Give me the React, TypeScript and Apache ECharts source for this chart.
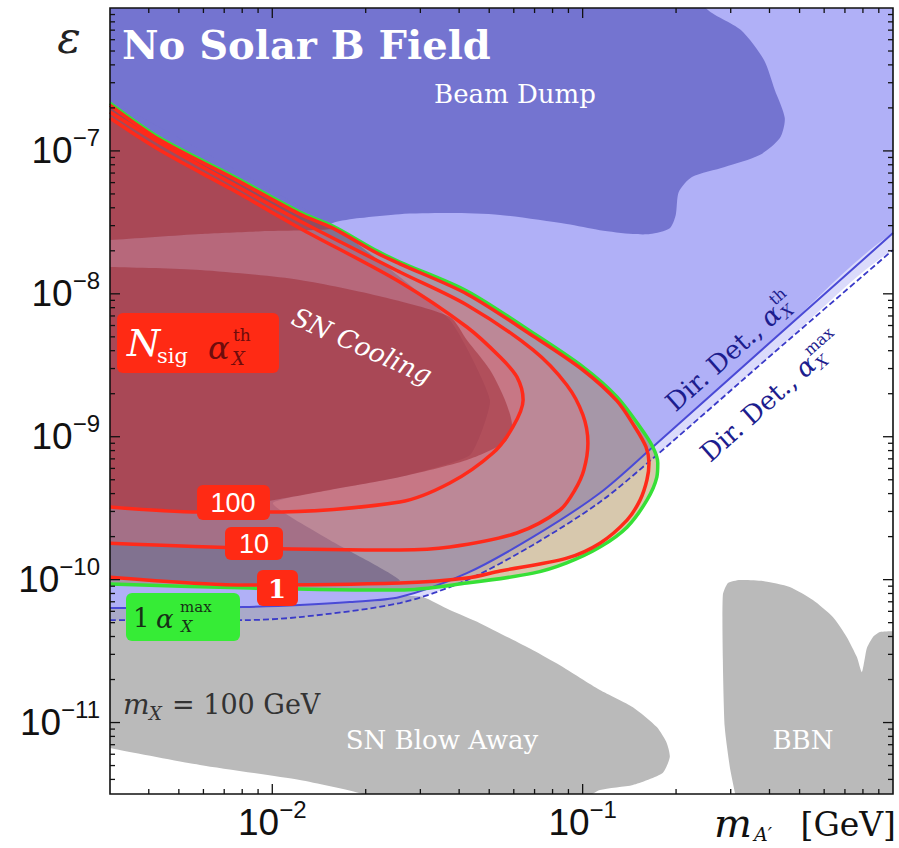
import React, { useEffect, useRef } from "react";
import * as echarts from "echarts";

type Pt = [number, number];

// ---------- axes ----------
const X_MIN = 0.003;
const X_MAX = 1;
const Y_MIN = 3.1623e-12;
const Y_MAX = 1e-6;

const xLabelValues = [0.01, 0.1];
const yLabelValues = [1e-11, 1e-10, 1e-9, 1e-8, 1e-7];
const xMajorTicks = [0.01, 0.1];
const yMajorTicks = [1e-11, 1e-10, 1e-9, 1e-8, 1e-7];
const xMinorTicks = [0.004, 0.005, 0.006, 0.007, 0.008, 0.009, 0.02, 0.03, 0.04, 0.05, 0.06, 0.07, 0.08, 0.09, 0.2, 0.3, 0.4, 0.5, 0.6, 0.7, 0.8, 0.9];
const yMinorTicks = [
  4e-12, 5e-12, 6e-12, 7e-12, 8e-12, 9e-12,
  2e-11, 3e-11, 4e-11, 5e-11, 6e-11, 7e-11, 8e-11, 9e-11,
  2e-10, 3e-10, 4e-10, 5e-10, 6e-10, 7e-10, 8e-10, 9e-10,
  2e-9, 3e-9, 4e-9, 5e-9, 6e-9, 7e-9, 8e-9, 9e-9,
  2e-8, 3e-8, 4e-8, 5e-8, 6e-8, 7e-8, 8e-8, 9e-8,
  2e-7, 3e-7, 4e-7, 5e-7, 6e-7, 7e-7, 8e-7, 9e-7,
];

// ---------- direct detection lines ----------
const ddThLine: Pt[] = [
  [3.0e-3, 6.32e-11], [5.04e-3, 6.32e-11], [8.05e-3, 6.43e-11], [1.227e-2, 6.64e-11],
  [1.778e-2, 6.97e-11], [2.576e-2, 7.55e-11], [4.236e-2, 1.11e-10], [6.92e-2, 1.99e-10],
  [1.137e-1, 4.04e-10], [1.683e-1, 8.48e-10], [4.10e-1, 4.75e-9], [1.0, 2.66e-8],
];
const ddMaxLine: Pt[] = [
  [3.0e-3, 5.21e-11], [8.05e-3, 5.21e-11], [1.227e-2, 5.47e-11], [2.576e-2, 6.86e-11],
  [4.236e-2, 9.93e-11], [6.92e-2, 1.75e-10], [1.137e-1, 3.49e-10], [1.734e-1, 7.45e-10],
  [4.16e-1, 3.92e-9], [1.0, 2.03e-8],
];

// ---------- excluded regions ----------
const beamDump: Pt[] = [
  [2.7e-3, 1.3e-6], [2.6e-1, 1.3e-6], [2.495e-1, 1.0e-6], [3.236e-1, 7.01e-7], [3.84e-1, 4.33e-7],
  [4.16e-1, 2.67e-7], [4.48e-1, 1.698e-7], [4.32e-1, 1.23e-7], [3.72e-1, 9.35e-8], [2.87e-1, 7.71e-8],
  [2.25e-1, 6.56e-8], [2.04e-1, 5.15e-8], [1.995e-1, 3.56e-8], [1.909e-1, 2.88e-8], [1.648e-1, 2.62e-8],
  [1.452e-1, 2.62e-8], [1.137e-1, 2.79e-8], [8.89e-2, 3.08e-8], [5.42e-2, 3.56e-8], [3.733e-2, 3.67e-8],
  [2.576e-2, 3.61e-8], [1.914e-2, 3.39e-8], [1.567e-2, 3.13e-8], [1.227e-2, 2.38e-8], [2.7e-3, 8.63e-8],
];
const snCoolingBase: Pt[] = [
  [2.6e-3, 2.4e-7], [3.0e-3, 2.27e-7], [1.567e-2, 2.98e-8], [3.733e-2, 6.56e-9], [5.03e-2, 1.81e-9],
  [4.34e-2, 7.45e-10], [2.576e-2, 5.22e-10], [1.005e-2, 3.44e-10], [1.535e-2, 1.89e-10],
  [2.576e-2, 9.77e-11], [8.48e-3, 9.31e-11], [3.0e-3, 1.025e-10], [2.6e-3, 1.05e-10],
];
const snCoolingUpper: Pt[] = [
  [2.6e-3, 2.2e-7], [3.0e-3, 2.16e-7], [4.35e-3, 1.23e-7], [7.47e-3, 6.67e-8], [1.227e-2, 3.73e-8],
  [1.59e-2, 2.88e-8], [9.62e-3, 2.75e-8], [5.85e-3, 2.62e-8], [3.0e-3, 2.38e-8], [2.6e-3, 2.38e-8],
];
const snCoolingCore: Pt[] = [
  [2.6e-3, 1.54e-8], [3.0e-3, 1.54e-8], [5.85e-3, 1.469e-8], [1.227e-2, 1.25e-8], [2.27e-2, 9.51e-9],
  [3.733e-2, 6.89e-9], [4.236e-2, 4.75e-9], [5.03e-2, 2.93e-9], [5.62e-2, 1.81e-9], [5.92e-2, 1.21e-9],
  [5.62e-2, 9.18e-10], [4.236e-2, 6.87e-10], [2.576e-2, 5.22e-10], [1.535e-2, 4.24e-10],
  [1.005e-2, 3.60e-10], [5.85e-3, 3.02e-10], [3.0e-3, 3.27e-10], [2.6e-3, 3.27e-10],
];
const snBlowAway: Pt[] = [
  [2.4e-3, 6.5e-11], [8.05e-3, 6.64e-11], [1.227e-2, 6.86e-11], [1.778e-2, 7.19e-11], [2.576e-2, 7.67e-11],
  [3.055e-2, 7.55e-11], [3.733e-2, 6.12e-11], [4.667e-2, 4.96e-11], [6.92e-2, 3.21e-11], [8.45e-2, 2.52e-11],
  [1.137e-1, 1.69e-11], [1.452e-1, 1.28e-11], [1.734e-1, 9.29e-12], [1.866e-1, 7.19e-12], [1.909e-1, 5.74e-12],
  [1.81e-1, 4.44e-12], [1.452e-1, 3.66e-12], [1.137e-1, 3.37e-12], [9.0e-2, 2.6e-12], [2.4e-2, 2.6e-12],
  [1.96e-2, 3.162e-12], [1.227e-2, 3.96e-12], [5.85e-3, 5.05e-12], [3.0e-3, 6.64e-12], [2.4e-3, 7.5e-12],
];
const bbn: Pt[] = [
  [3.15e-1, 2.6e-12], [3.10e-1, 3.162e-12], [2.98e-1, 4.89e-12], [2.87e-1, 9.29e-12], [2.83e-1, 2.74e-11],
  [2.83e-1, 7.80e-11], [2.94e-1, 9.46e-11], [3.21e-1, 9.93e-11], [3.81e-1, 9.77e-11], [4.65e-1, 8.87e-11],
  [5.52e-1, 7.19e-11], [6.40e-1, 5.47e-11], [7.10e-1, 3.96e-11], [7.65e-1, 2.87e-11], [7.94e-1, 2.25e-11],
  [8.24e-1, 3.32e-11], [8.61e-1, 3.96e-11], [9.08e-1, 4.30e-11], [1.0, 4.36e-11], [1.3, 4.36e-11], [1.3, 2.6e-12],
];

// ---------- N_sig contours (alpha_X^th) and 1 alpha_X^max ----------
const greenMax1: Pt[] = [
  [3.0e-3, 2.16e-7], [4.35e-3, 1.23e-7], [7.47e-3, 6.67e-8], [1.227e-2, 3.73e-8], [1.567e-2, 2.98e-8],
  [2.172e-2, 2.0e-8], [2.576e-2, 1.67e-8], [4.236e-2, 1.047e-8], [6.92e-2, 5.32e-9], [1.002e-1, 3.08e-9],
  [1.29e-1, 1.90e-9], [1.531e-1, 1.17e-9], [1.683e-1, 8.48e-10], [1.746e-1, 6.55e-10], [1.734e-1, 5.22e-10],
  [1.611e-1, 3.60e-10], [1.39e-1, 2.33e-10], [1.137e-1, 1.69e-10], [8.89e-2, 1.31e-10], [6.92e-2, 1.11e-10],
  [4.236e-2, 9.46e-11], [2.576e-2, 8.45e-11], [8.48e-3, 8.73e-11], [3.0e-3, 9.31e-11],
];
const red1: Pt[] = [
  [3.0e-3, 2.094e-7], [4.35e-3, 1.19e-7], [7.47e-3, 6.45e-8], [1.227e-2, 3.61e-8], [1.567e-2, 2.88e-8],
  [2.172e-2, 1.93e-8], [2.576e-2, 1.62e-8], [4.236e-2, 9.98e-9], [6.92e-2, 5.07e-9], [1.002e-1, 2.93e-9],
  [1.29e-1, 1.78e-9], [1.473e-1, 1.17e-9], [1.60e-1, 8.48e-10], [1.636e-1, 6.55e-10], [1.611e-1, 4.98e-10],
  [1.531e-1, 3.60e-10], [1.39e-1, 2.61e-10], [1.137e-1, 1.80e-10], [8.89e-2, 1.415e-10], [5.42e-2, 1.148e-10],
  [4.236e-2, 1.025e-10], [2.576e-2, 9.46e-11], [8.48e-3, 9.16e-11], [3.0e-3, 1.04e-10],
];
const red10: Pt[] = [
  [3.0e-3, 1.87e-7], [4.35e-3, 1.135e-7], [7.47e-3, 5.86e-8], [1.227e-2, 3.23e-8], [2.576e-2, 1.422e-8],
  [4.236e-2, 8.36e-9], [6.92e-2, 4.05e-9], [8.89e-2, 2.30e-9], [1.002e-1, 1.42e-9], [1.04e-1, 9.04e-10],
  [1.009e-1, 5.85e-10], [9.44e-2, 4.24e-10], [8.45e-2, 3.07e-10], [6.14e-2, 2.12e-10], [3.733e-2, 1.69e-10],
  [2.576e-2, 1.61e-10], [8.48e-3, 1.66e-10], [3.0e-3, 1.80e-10],
];
const red100: Pt[] = [
  [3.0e-3, 1.698e-7], [4.35e-3, 1.01e-7], [7.47e-3, 5.32e-8], [1.227e-2, 2.88e-8], [2.576e-2, 1.21e-8],
  [4.236e-2, 5.86e-9], [5.42e-2, 3.61e-9], [6.14e-2, 2.62e-9], [6.43e-2, 1.81e-9], [5.96e-2, 1.17e-9],
  [5.14e-2, 7.69e-10], [3.733e-2, 4.74e-10], [2.576e-2, 3.49e-10], [9.62e-3, 2.97e-10], [5.85e-3, 2.97e-10],
  [3.0e-3, 3.22e-10],
];

// ---------- helpers ----------
const SERIF = '"DejaVu Serif"';

function polygonSeries(name: string, pts: Pt[], fill: string, smooth = 0.25) {
  return {
    type: "custom",
    name,
    coordinateSystem: "cartesian2d",
    silent: true,
    clip: true,
    data: pts.map((p) => [p[0], p[1]]),
    encode: { x: 0, y: 1 },
    renderItem: (params: any, api: any) => {
      if (params.dataIndex !== 0) return null;
      return {
        type: "polygon",
        shape: { points: pts.map((p) => api.coord(p)), smooth },
        style: { fill },
      };
    },
  };
}

function lineSeries(name: string, pts: Pt[], color: string, width: number, type: any = "solid", smooth = 0.3) {
  return {
    type: "line",
    name,
    data: pts,
    showSymbol: false,
    symbol: "none",
    smooth,
    silent: true,
    clip: true,
    lineStyle: { color, width, type },
  };
}

function closeAbove(line: Pt[]): Pt[] {
  const first = line[0];
  const last = line[line.length - 1];
  return [[first[0] * 0.8, first[1]], ...line, [last[0] * 1.4, last[1]], [last[0] * 1.4, Y_MAX * 2], [first[0] * 0.8, Y_MAX * 2]];
}

function interior(c: Pt[]): Pt[] {
  return [[c[0][0] * 0.85, c[0][1]], ...c, [c[c.length - 1][0] * 0.85, c[c.length - 1][1]]];
}

function powFormatter(allowed: number[]) {
  return (v: number) => {
    const l = Math.log10(v);
    const e = Math.round(l);
    if (Math.abs(l - e) > 1e-6) return "";
    if (!allowed.some((a) => Math.abs(Math.log10(a) - e) < 1e-6)) return "";
    return `{b|10}{s|\u2212${Math.abs(e)}}`;
  };
}

const labelRich = {
  b: { fontSize: 37, fontFamily: "Liberation Sans", color: "#111" },
  s: { fontSize: 24, fontFamily: "Liberation Sans", color: "#111", padding: [0, 0, 26, 0] },
};

export default function App() {
  const ref = useRef<HTMLDivElement>(null);

  useEffect(() => {
    document.body.style.margin = "0";
    const chart = echarts.init(ref.current!, null, { renderer: "svg" });

    const ctx = document.createElement("canvas").getContext("2d")!;
    const measure = (t: string, font: string) => {
      ctx.font = font;
      return ctx.measureText(t).width;
    };

    const tickSeriesX = {
      type: "custom",
      name: "xticks",
      coordinateSystem: "cartesian2d",
      silent: true,
      z: 10,
      data: [...xMajorTicks.map((v) => [v, 1e-9, 1]), ...xMinorTicks.map((v) => [v, 1e-9, 0])],
      encode: { x: 0, y: 1 },
      renderItem: (params: any, api: any) => {
        const cs = params.coordSys;
        const x = api.coord([api.value(0), api.value(1)])[0];
        const len = api.value(2) ? 10 : 5;
        const b = cs.y + cs.height;
        const st = { stroke: "#111", lineWidth: 1.3 };
        return {
          type: "group",
          children: [
            { type: "line", shape: { x1: x, y1: b, x2: x, y2: b - len }, style: st },
            { type: "line", shape: { x1: x, y1: cs.y, x2: x, y2: cs.y + len }, style: st },
          ],
        };
      },
    };
    const tickSeriesY = {
      type: "custom",
      name: "yticks",
      coordinateSystem: "cartesian2d",
      silent: true,
      z: 10,
      data: [...yMajorTicks.map((v) => [0.01, v, 1]), ...yMinorTicks.map((v) => [0.01, v, 0])],
      encode: { x: 0, y: 1 },
      renderItem: (params: any, api: any) => {
        const cs = params.coordSys;
        const y = api.coord([api.value(0), api.value(1)])[1];
        const len = api.value(2) ? 10 : 5;
        const r = cs.x + cs.width;
        const st = { stroke: "#111", lineWidth: 1.3 };
        return {
          type: "group",
          children: [
            { type: "line", shape: { x1: cs.x, y1: y, x2: cs.x + len, y2: y }, style: st },
            { type: "line", shape: { x1: r, y1: y, x2: r - len, y2: y }, style: st },
          ],
        };
      },
    };
    const frameSeries = {
      type: "custom",
      name: "frame",
      coordinateSystem: "cartesian2d",
      silent: true,
      z: 11,
      data: [[0.01, 1e-9]],
      encode: { x: 0, y: 1 },
      renderItem: (params: any) => {
        const cs = params.coordSys;
        return {
          type: "rect",
          shape: { x: cs.x, y: cs.y, width: cs.width, height: cs.height },
          style: { fill: "none", stroke: "#111", lineWidth: 1.6 },
        };
      },
    };

    const T = (x: number, y: number, text: string, font: string, fill: string, align = "left", extra: any = {}) => ({
      type: "text",
      x,
      y,
      z: 100,
      silent: true,
      ...extra,
      style: { text, font, fill, textAlign: align, textVerticalAlign: "middle", ...(extra.style || {}) },
    });

    const box = (x: number, y: number, w: number, h: number, fill: string) => ({
      type: "rect",
      z: 99,
      silent: true,
      shape: { x, y, width: w, height: h, r: 6 },
      style: { fill },
    });

    const ddLabel = (cx: number, cy: number, sup: string, px: number) => {
      const f1 = `${px}px ${SERIF}`;
      const fa = `italic ${px}px ${SERIF}`;
      const fs = `${Math.round(px * 0.62)}px ${SERIF}`;
      const fx = `italic ${Math.round(px * 0.62)}px ${SERIF}`;
      const w1 = measure("Dir. Det., ", f1);
      const wa = measure("\u03b1", fa);
      const ws = Math.max(measure(sup, fs), measure("X", fx));
      const total = w1 + wa + ws + 1;
      const x0 = -total / 2;
      const col = "#1d1d8e";
      return {
        type: "group",
        x: cx,
        y: cy,
        rotation: 0.728,
        z: 100,
        silent: true,
        children: [
          T(x0, 0, "Dir. Det., ", f1, col),
          T(x0 + w1, 0, "\u03b1", fa, col),
          T(x0 + w1 + wa + 1, -px * 0.38, sup, fs, col),
          T(x0 + w1 + wa + 1, px * 0.3, "X", fx, col),
        ],
      };
    };

    const graphics: any[] = [
      T(122, 44, "No Solar B Field", `bold 40px ${SERIF}`, "#ffffff"),
      T(515, 94, "Beam Dump", `26px ${SERIF}`, "#ffffff", "center"),
      T(362, 346, "SN Cooling", `italic 26px ${SERIF}`, "#ffffff", "center", { rotation: -0.42 }),
      T(442, 740, "SN Blow Away", `26px ${SERIF}`, "#ffffff", "center"),
      T(803, 740, "BBN", `26px ${SERIF}`, "#ffffff", "center"),
      T(69, 37, "\u03b5", `italic 44px ${SERIF}`, "#222", "center"),
      // m_X = 100 GeV
      T(123, 704, "m", `italic 28px ${SERIF}`, "#333"),
      T(149, 713, "X", `italic 18px ${SERIF}`, "#333"),
      T(172, 704, "= 100 GeV", `27px ${SERIF}`, "#333"),
      // x axis title
      T(714, 823, "m", `italic 40px ${SERIF}`, "#111"),
      T(754, 834, "A\u2032", `italic 19px ${SERIF}`, "#111"),
      T(896, 824, "[GeV]", `33px ${SERIF}`, "#111", "right"),
      // N_sig alpha_X^th box
      box(117, 313, 162, 60, "#ff2a14"),
      T(127, 343, "N", `italic 38px ${SERIF}`, "#ffffff"),
      T(157, 356, "sig", `21px ${SERIF}`, "#ffffff"),
      T(208, 348, "\u03b1", `italic 32px ${SERIF}`, "#6e0c0c"),
      T(233, 335, "th", `17px ${SERIF}`, "#6e0c0c"),
      T(232, 358, "X", `italic 18px ${SERIF}`, "#6e0c0c"),
      // 1 alpha_X^max box
      box(126, 593, 114, 48, "#36ec36"),
      T(133, 618, "1", `26px ${SERIF}`, "#163016"),
      T(156, 619, "\u03b1", `italic 26px ${SERIF}`, "#163016"),
      T(180, 607, "max", `15px ${SERIF}`, "#163016"),
      T(181, 626, "X", `italic 16px ${SERIF}`, "#163016"),
      // N_sig value boxes
      box(197, 485, 73, 35, "#ff2a14"),
      T(233, 503, "100", `27px "Liberation Sans"`, "#ffffff", "center"),
      box(225, 527, 58, 33, "#ff2a14"),
      T(254, 544, "10", `27px "Liberation Sans"`, "#ffffff", "center"),
      box(257, 570, 41, 36, "#ff2a14"),
      T(277, 589, "1", `bold 26px ${SERIF}`, "#ffffff", "center"),
      ddLabel(730, 352, "th", 26),
      ddLabel(771, 397, "max", 26),
    ];

    const option: any = {
      animation: false,
      backgroundColor: "#ffffff",
      grid: { left: 110, top: 8, width: 783, height: 786, containLabel: false, outerBoundsMode: "none" },
      xAxis: {
        type: "log",
        logBase: 10,
        min: X_MIN,
        max: X_MAX,
        axisLine: { show: false },
        axisTick: { show: false },
        splitLine: { show: false },
        minorTick: { show: false },
        axisLabel: { margin: 3, formatter: powFormatter(xLabelValues), rich: labelRich, showMinLabel: false, showMaxLabel: false },
      },
      yAxis: {
        type: "log",
        logBase: 10,
        min: Y_MIN,
        max: Y_MAX,
        axisLine: { show: false },
        axisTick: { show: false },
        splitLine: { show: false },
        minorTick: { show: false },
        axisLabel: { margin: 10, formatter: powFormatter(yLabelValues), rich: labelRich, showMinLabel: false, showMaxLabel: false },
      },
      series: [
        polygonSeries("SN Blow Away", snBlowAway, "#bababa", 0.2),
        polygonSeries("BBN", bbn, "#bababa", 0.2),
        polygonSeries("Dir. Det. max", closeAbove(ddMaxLine), "rgba(125,125,240,0.28)", 0.3),
        polygonSeries("Dir. Det. th", closeAbove(ddThLine), "#b0b0f7", 0.3),
        polygonSeries("Beam Dump", beamDump, "#7474d0", 0.25),
        polygonSeries("SN Cooling base", snCoolingBase, "#7474d0", 0.15),
        polygonSeries("N1 max region", interior(greenMax1), "rgba(150,110,40,0.38)", 0.3),
        polygonSeries("N10 region", interior(red10), "rgba(230,110,120,0.35)", 0.3),
        polygonSeries("N100 region", interior(red100), "rgba(220,90,100,0.35)", 0.3),
        polygonSeries("SN Cooling upper", snCoolingUpper, "rgba(155,40,50,0.5)", 0.2),
        polygonSeries("SN Cooling core", snCoolingCore, "rgba(155,40,50,0.5)", 0.25),
        lineSeries("Dir. Det. th line", ddThLine, "#4a4ad6", 2),
        lineSeries("Dir. Det. max line", ddMaxLine, "#3a3ac8", 1.8, [6, 3]),
        lineSeries("1 alpha max", greenMax1, "#36e036", 3.5),
        lineSeries("N=1", red1, "#ff2a1a", 3.5),
        lineSeries("N=10", red10, "#ff2a1a", 3.5),
        lineSeries("N=100", red100, "#ff2a1a", 3.5),
        tickSeriesX,
        tickSeriesY,
        frameSeries,
      ],
      graphic: { elements: graphics },
    };

    chart.setOption(option);
    return () => chart.dispose();
  }, []);

  return <div ref={ref} style={{ width: 899, height: 848 }} />;
}
